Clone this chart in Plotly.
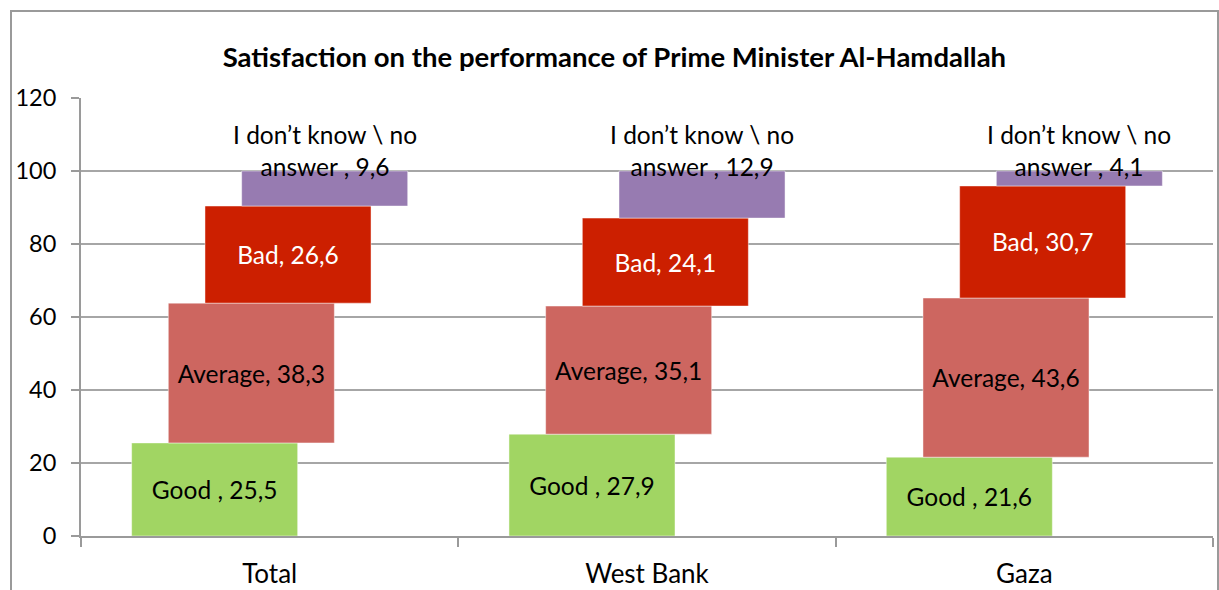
import plotly.graph_objects as go

categories = ["Total", "West Bank", "Gaza"]
good = [25.5, 27.9, 21.6]
average = [38.3, 35.1, 43.6]
bad = [26.6, 24.1, 30.7]
dont_know = [9.6, 12.9, 4.1]

series_names = ["Good ", "Average", "Bad", "I don’t know \\ no answer "]
series_values = [good, average, bad, dont_know]
series_colors = ["#A1D563", "#CD6660", "#CC1F00", "#977BB1"]
label_colors = ["#000000", "#000000", "#FFFFFF", "#000000"]

title_text = "Satisfaction on the performance of Prime Minister Al-Hamdallah"
y_ticks = [0, 20, 40, 60, 80, 100, 120]

FONT = "Lato"
W, H = 1219, 590
ML, MR, MT, MB = 81, 6, 98, 54
BAR_W = 0.44
STEP = 0.0972
LBL = 24.5


def fmt(v):
    return f"{v:.1f}".replace(".", ",")


fig = go.Figure()
bases = [0.0] * len(categories)
for k, (name, vals, col, lcol) in enumerate(zip(series_names, series_values, series_colors, label_colors)):
    off = -1.5 * STEP - BAR_W / 2 + k * STEP
    is_dk = k == 3
    texts = [f"{name}, {fmt(v)}" for v in vals]
    fig.add_trace(go.Bar(
        x=categories, y=vals, base=list(bases), name=name.strip(),
        width=[BAR_W] * len(vals), offset=[off] * len(vals),
        marker=dict(color=col, line=dict(color="rgba(255,255,255,0.45)", width=1)),
        text=None if is_dk else texts,
        textposition="inside", insidetextanchor="middle", textangle=0,
        insidetextfont=dict(family=FONT, size=LBL, color=lcol),
        hoverinfo="skip", showlegend=False,
    ))
    if is_dk:
        for i, v in enumerate(vals):
            top = bases[i] + v
            fig.add_annotation(
                x=i + off + BAR_W / 2, y=top, xref="x", yref="y",
                text=f"I don’t know \\ no<br>answer , {fmt(v)}",
                showarrow=False, yanchor="bottom", yshift=-12,
                font=dict(family=FONT, size=LBL, color="#000000"),
            )
    bases = [b + v for b, v in zip(bases, vals)]

# outer chart border
fig.add_shape(type="rect", xref="paper", yref="paper",
              x0=(11 - ML) / (W - ML - MR), x1=(1218 - ML) / (W - ML - MR),
              y0=-0.3, y1=(H - MB - 11) / (H - MT - MB),
              line=dict(color="#9A9A9A", width=2), layer="below")

fig.update_layout(
    width=W, height=H,
    margin=dict(l=ML, r=MR, t=MT, b=MB, autoexpand=False),
    paper_bgcolor="white", plot_bgcolor="white",
    barmode="overlay",
    title=dict(text=f"<b>{title_text}</b>", x=0.504, xanchor="center",
               y=1 - 57 / H, yanchor="middle",
               font=dict(family=FONT, size=27.5, color="#000000")),
    font=dict(family=FONT, color="#000000"),
    xaxis=dict(
        type="category", range=[-0.5, 2.5], tickson="boundaries",
        ticks="outside", ticklen=9, tickcolor="#9A9A9A", tickwidth=2,
        showline=True, linecolor="#9A9A9A", linewidth=2, automargin=False,
        showgrid=False, tickfont=dict(family=FONT, size=26, color="#000000"),
        ticklabelstandoff=14,
    ),
    yaxis=dict(
        range=[0, 120], tickvals=y_ticks, ticks="outside", ticklen=8,
        tickcolor="#9A9A9A", tickwidth=2, automargin=False,
        showline=True, linecolor="#9A9A9A", linewidth=2,
        showgrid=True, gridcolor="#A6A6A6", gridwidth=1.5, zeroline=False,
        tickfont=dict(family=FONT, size=23.5, color="#000000"),
        ticklabelstandoff=10,
    ),
)

fig.write_html("out.html", config={"displayModeBar": False},
               post_script="document.body.style.margin='0';document.body.style.overflow='hidden';")
